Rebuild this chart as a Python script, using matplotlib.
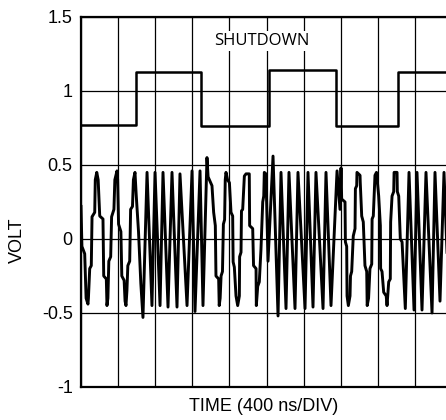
import matplotlib
matplotlib.use("Agg")
import matplotlib.pyplot as plt

plt.rcParams['font.family'] = ['Liberation Sans', 'DejaVu Sans']
plt.rcParams['axes.unicode_minus'] = False

# shutdown control (step levels, volts)
sd_time = [0, 593, 593, 1294, 1294, 2024, 2024, 2749, 2749, 3417, 3417, 4000]
sd_volt = [0.77, 0.77, 1.13, 1.13, 0.76, 0.76, 1.14, 1.14, 0.76, 0.76, 1.13, 1.13]

# output signal (ns, volts)
sig_time = [0, 10, 40, 55, 75,
            80, 94, 111, 119, 148, 154, 170,
            185, 202, 237, 245, 273, 280,
            290, 300, 320, 330, 355, 365, 388,
            395, 405, 430, 440, 465, 475, 485,
            495, 505, 525, 535, 555, 565, 582,
            595, 620, 645, 668,
            712, 765, 798, 852, 884, 938, 981, 1035, 1067, 1143,
            1197, 1229, 1283, 1315, 1358,
            1370, 1412, 1430, 1448, 1455, 1484, 1490,
            1500, 1510, 1525, 1535, 1548, 1555, 1563,
            1580, 1600, 1617, 1635, 1640, 1653, 1671, 1689,
            1707, 1710, 1725, 1730, 1743, 1761, 1779, 1814,
            1818, 1851, 1860, 1887, 1890,
            1905, 1922, 1940, 1959, 1970, 1976, 1994,
            2016, 2070, 2124, 2156, 2210, 2242, 2307, 2339, 2415, 2447,
            2501, 2533, 2609, 2641, 2695, 2760, 2792, 2803,
            2810, 2846, 2850, 2864, 2868, 2882,
            2900, 2905, 2918, 2935, 2954, 2958, 2972, 2975, 3008,
            3010, 3026, 3043, 3061, 3080, 3085,
            3100, 3115, 3134, 3138, 3151, 3169, 3185,
            3191, 3195, 3209, 3227, 3230, 3245, 3263, 3290, 3299,
            3317, 3334, 3338, 3353, 3371, 3375, 3407,
            3410, 3425, 3442, 3461, 3479, 3496,
            3536, 3590, 3622, 3676, 3719, 3784, 3816, 3870, 3913, 3967]
sig_volt = [0.22, -0.05, -0.10, -0.40, -0.44,
            -0.40, -0.20, -0.18, 0.15, 0.18, 0.40, 0.45,
            0.40, 0.155, 0.135, -0.25, -0.27, -0.45,
            -0.40, -0.15, -0.12, 0.15, 0.20, 0.40, 0.46,
            0.40, 0.10, 0.05, -0.25, -0.28, -0.42, -0.45,
            -0.35, -0.18, -0.15, 0.20, 0.22, 0.40, 0.45,
            0.30, 0.05, -0.30, -0.53,
            0.45, -0.45, 0.45, -0.45, 0.45, -0.46, 0.45, -0.46, 0.44, -0.45,
            0.46, -0.49, 0.46, -0.45, 0.55,
            0.42, 0.36, 0.18, 0.09, -0.25, -0.27, -0.45,
            -0.40, -0.25, -0.22, 0.10, 0.13, 0.40, 0.45,
            0.40, 0.38, 0.18, 0.155, -0.155, -0.19, -0.385, -0.45,
            -0.385, -0.12, -0.09, 0.19, 0.20, 0.425, 0.44, 0.44,
            0.09, 0.07, -0.18, -0.20, -0.45,
            -0.32, -0.29, -0.07, 0.25, 0.29, 0.45, 0.44,
            -0.15, 0.56, -0.52, 0.45, -0.47, 0.45, -0.47, 0.45, -0.47, 0.45,
            -0.46, 0.45, -0.47, 0.45, -0.45, 0.46, 0.20, 0.48,
            0.27, 0.25, -0.02, -0.05, -0.385, -0.45,
            -0.385, -0.25, -0.22, 0.02, 0.07, 0.34, 0.36, 0.45, 0.43,
            0.385, 0.155, 0.115, -0.18, -0.22, -0.45,
            -0.40, -0.20, -0.17, 0.135, 0.155, 0.43, 0.45,
            0.44, 0.385, 0.29, 0.09, -0.20, -0.22, -0.36, -0.385, -0.45,
            -0.29, -0.27, 0.115, 0.29, 0.32, 0.45, 0.45,
            0.32, 0.29, 0.0, -0.02, -0.25, -0.47,
            0.45, -0.48, 0.45, -0.48, 0.45, -0.50, 0.45, -0.42, 0.45, -0.45]

y_ticks = [-1, -0.5, 0, 0.5, 1, 1.5]
y_labels = ['-1', '-0.5', '0', '0.5', '1', '1.5']

fig = plt.figure(figsize=(4.46, 4.2), dpi=100)
ax = fig.add_axes([0.1816, 0.0786, 0.832, 0.881])

ax.plot(sig_time, sig_volt, color='black', linewidth=2.1)
ax.plot(sd_time, sd_volt, color='black', linewidth=1.8)

ax.set_xlim(0, 4000)
ax.set_ylim(-1, 1.5)
ax.set_xticks(range(0, 4001, 400))
ax.set_xticklabels([])
ax.set_yticks(y_ticks)
ax.set_yticklabels(y_labels, fontsize=13)
ax.tick_params(length=0, pad=6)
ax.grid(True, color='black', linewidth=0.9)
for s in ax.spines.values():
    s.set_linewidth(1.6)

ax.text(1950, 1.335, 'SHUTDOWN', fontsize=12, family=['Open Sans', 'DejaVu Sans'],
        ha='center', va='center',
        bbox=dict(facecolor='white', edgecolor='none', pad=1.5))

fig.text(0.04, 0.4286, 'VOLT', rotation=90, fontsize=13, ha='center', va='center')
fig.text(0.592, 0.031, 'TIME (400 ns/DIV)', fontsize=13, ha='center', va='center')

fig.savefig('out.png', dpi=100)
